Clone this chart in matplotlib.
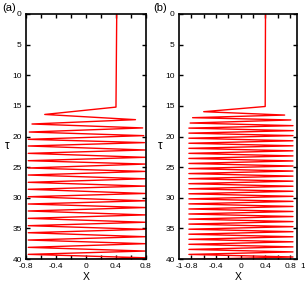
import matplotlib.pyplot as plt
import matplotlib.transforms as mtransforms

plt.rcParams['font.family'] = ['Liberation Sans', 'DejaVu Sans']

# turning points of the trajectory, panel (a)
tau_a = [0.0, 15.2, 16.4, 17.25, 17.96, 18.6, 19.27, 19.86, 20.46, 21.0, 21.55,
         22.2, 22.75, 23.4, 23.95, 24.5, 25.14, 25.7, 26.29, 26.9, 27.48,
         28.1, 28.62, 29.3, 29.83, 30.5, 31.02, 31.6, 32.16, 32.8, 33.36,
         34.0, 34.56, 35.15, 35.71, 36.36, 36.9, 37.5, 38.1, 38.7, 39.24,
         39.8, 40.4]
x_a = [0.41, 0.40, -0.55, 0.66, -0.72, 0.756, -0.756, 0.77, -0.77, 0.78, -0.77,
       0.79, -0.77, 0.79, -0.77, 0.79, -0.77, 0.79, -0.77, 0.79, -0.77,
       0.79, -0.77, 0.79, -0.77, 0.79, -0.77, 0.79, -0.77, 0.79, -0.77,
       0.79, -0.77, 0.79, -0.77, 0.79, -0.77, 0.79, -0.77, 0.79, -0.77,
       0.79, -0.77]

# turning points of the trajectory, panel (b)
tau_b = [0.0, 15.1, 15.95, 16.5, 16.93, 17.3, 17.8, 18.23, 18.63, 19.05, 19.45,
         19.86, 20.28, 20.7, 21.1, 21.52, 21.93, 22.34, 22.75, 23.17, 23.58,
         23.99, 24.4, 24.82, 25.23, 25.64, 26.05, 26.47, 26.88, 27.29, 27.7,
         28.12, 28.53, 28.94, 29.35, 29.77, 30.18, 30.59, 31.0, 31.42, 31.83,
         32.24, 32.65, 33.07, 33.48, 33.89, 34.3, 34.72, 35.13, 35.54, 35.95,
         36.37, 36.78, 37.19, 37.6, 38.02, 38.43, 38.84, 39.25, 39.67, 40.08]
x_b = [0.40, 0.395, -0.60, 0.71, -0.78, 0.81, -0.82, 0.845, -0.84, 0.85, -0.84,
       0.845, -0.84, 0.845, -0.84, 0.845, -0.84, 0.845, -0.84, 0.845, -0.84,
       0.845, -0.84, 0.845, -0.84, 0.845, -0.84, 0.845, -0.84, 0.845, -0.84,
       0.845, -0.84, 0.845, -0.84, 0.845, -0.84, 0.845, -0.84, 0.845, -0.84,
       0.845, -0.84, 0.845, -0.84, 0.845, -0.84, 0.845, -0.84, 0.845, -0.84,
       0.845, -0.84, 0.845, -0.84, 0.845, -0.84, 0.845, -0.84, 0.845, -0.84]

y_ticks = [0, 5, 10, 15, 20, 25, 30, 35, 40]
x_ticks = [-0.8, -0.6, -0.4, -0.2, 0.0, 0.2, 0.4, 0.6, 0.8]
x_labels = ['-0.8', '', '-0.4', '', '0', '', '0.4', '', '0.8']

fig = plt.figure(figsize=(3.05, 2.85), dpi=100)
ax_a = fig.add_axes([0.0852, 0.0912, 0.3934, 0.8597])
ax_b = fig.add_axes([0.5869, 0.0912, 0.3869, 0.8597])

for ax, tau, xx, xlim, tag, tx in [(ax_a, tau_a, x_a, (-0.8, 0.8), '(a)', -0.2),
                                   (ax_b, tau_b, x_b, (-1.0, 0.91), '(b)', -0.22)]:
    ax.plot(xx, tau, color='red', lw=1.0)
    ax.set_xlim(*xlim)
    ax.set_ylim(40, 0)
    ax.set_yticks(y_ticks)
    ax.set_xticks(x_ticks)
    ax.set_xticklabels(x_labels)
    ax.tick_params(direction='in', length=3, width=1.0, labelsize=6,
                   top=True, right=True, pad=3)
    for s in ax.spines.values():
        s.set_linewidth(1.2)
    ax.set_xlabel('X', fontsize=7.5, labelpad=1.5)
    ax.text(-0.16, 0.463, '\u03c4', transform=ax.transAxes, fontsize=8.5,
            ha='center', va='center')
    ax.text(tx, 1.025, tag, transform=ax.transAxes, fontsize=8,
            ha='left', va='center')

# extra end labels on panel (b)
trans = mtransforms.blended_transform_factory(ax_b.transData, ax_b.transAxes)
ax_b.text(-1.0, -0.017, '-1', transform=trans, fontsize=6, ha='center',
          va='top', clip_on=False)
ax_b.text(1.0, -0.017, '1', transform=trans, fontsize=6, ha='center',
          va='top', clip_on=False)

fig.savefig('out.png', dpi=100)
